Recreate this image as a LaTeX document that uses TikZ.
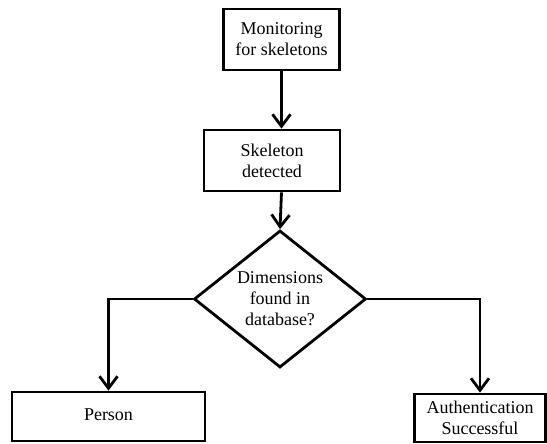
\documentclass[tikz,border=0pt]{standalone}
\usepackage{fontspec}
\setmainfont{Liberation Serif}
\usetikzlibrary{arrows.meta,shapes.geometric}
\begin{document}
\begin{tikzpicture}[x=1pt,y=-1pt,
  box/.style={draw,line width=2.8pt,inner sep=0pt,align=center,font=\fontsize{18}{21}\selectfont},
  dec/.style={draw,shape=diamond,line width=2.8pt,inner sep=0pt,aspect=1.255,minimum width=172pt,minimum height=137pt,align=center,font=\fontsize{18}{21}\selectfont},
  arr/.style={line width=2.8pt,-{Straight Barb[length=12pt,width=18pt,line width=2.8pt]}}]
\useasboundingbox (0,0) rectangle (547,444);
\node[box,minimum width=116pt,minimum height=61pt] (b1) at (281.5,39.5) {Monitoring\\for skeletons};
\node[box,minimum width=136pt,minimum height=61pt] (b2) at (272,160.5) {Skeleton\\detected};
\node[dec] (d) at (280,299) {\raisebox{-5pt}{\parbox{100pt}{\centering Dimensions\\found in\\database?}}};
\node[box,minimum width=193pt,minimum height=49pt] (p) at (108.5,416.5) {\raisebox{4pt}{Person}};
\node[box,minimum width=131pt,minimum height=48pt] (a) at (480,418) {\parbox{130pt}{\centering Authentication\\Successful}};
\draw[arr] (b1.south) -- (b1.south |- b2.north);
\draw[arr] (b1.south |- b2.south) -- (d.north);
\draw[arr] (d.west) -| (p.north);
\draw[arr] (d.east) -| (a.north);
\end{tikzpicture}
\end{document}
